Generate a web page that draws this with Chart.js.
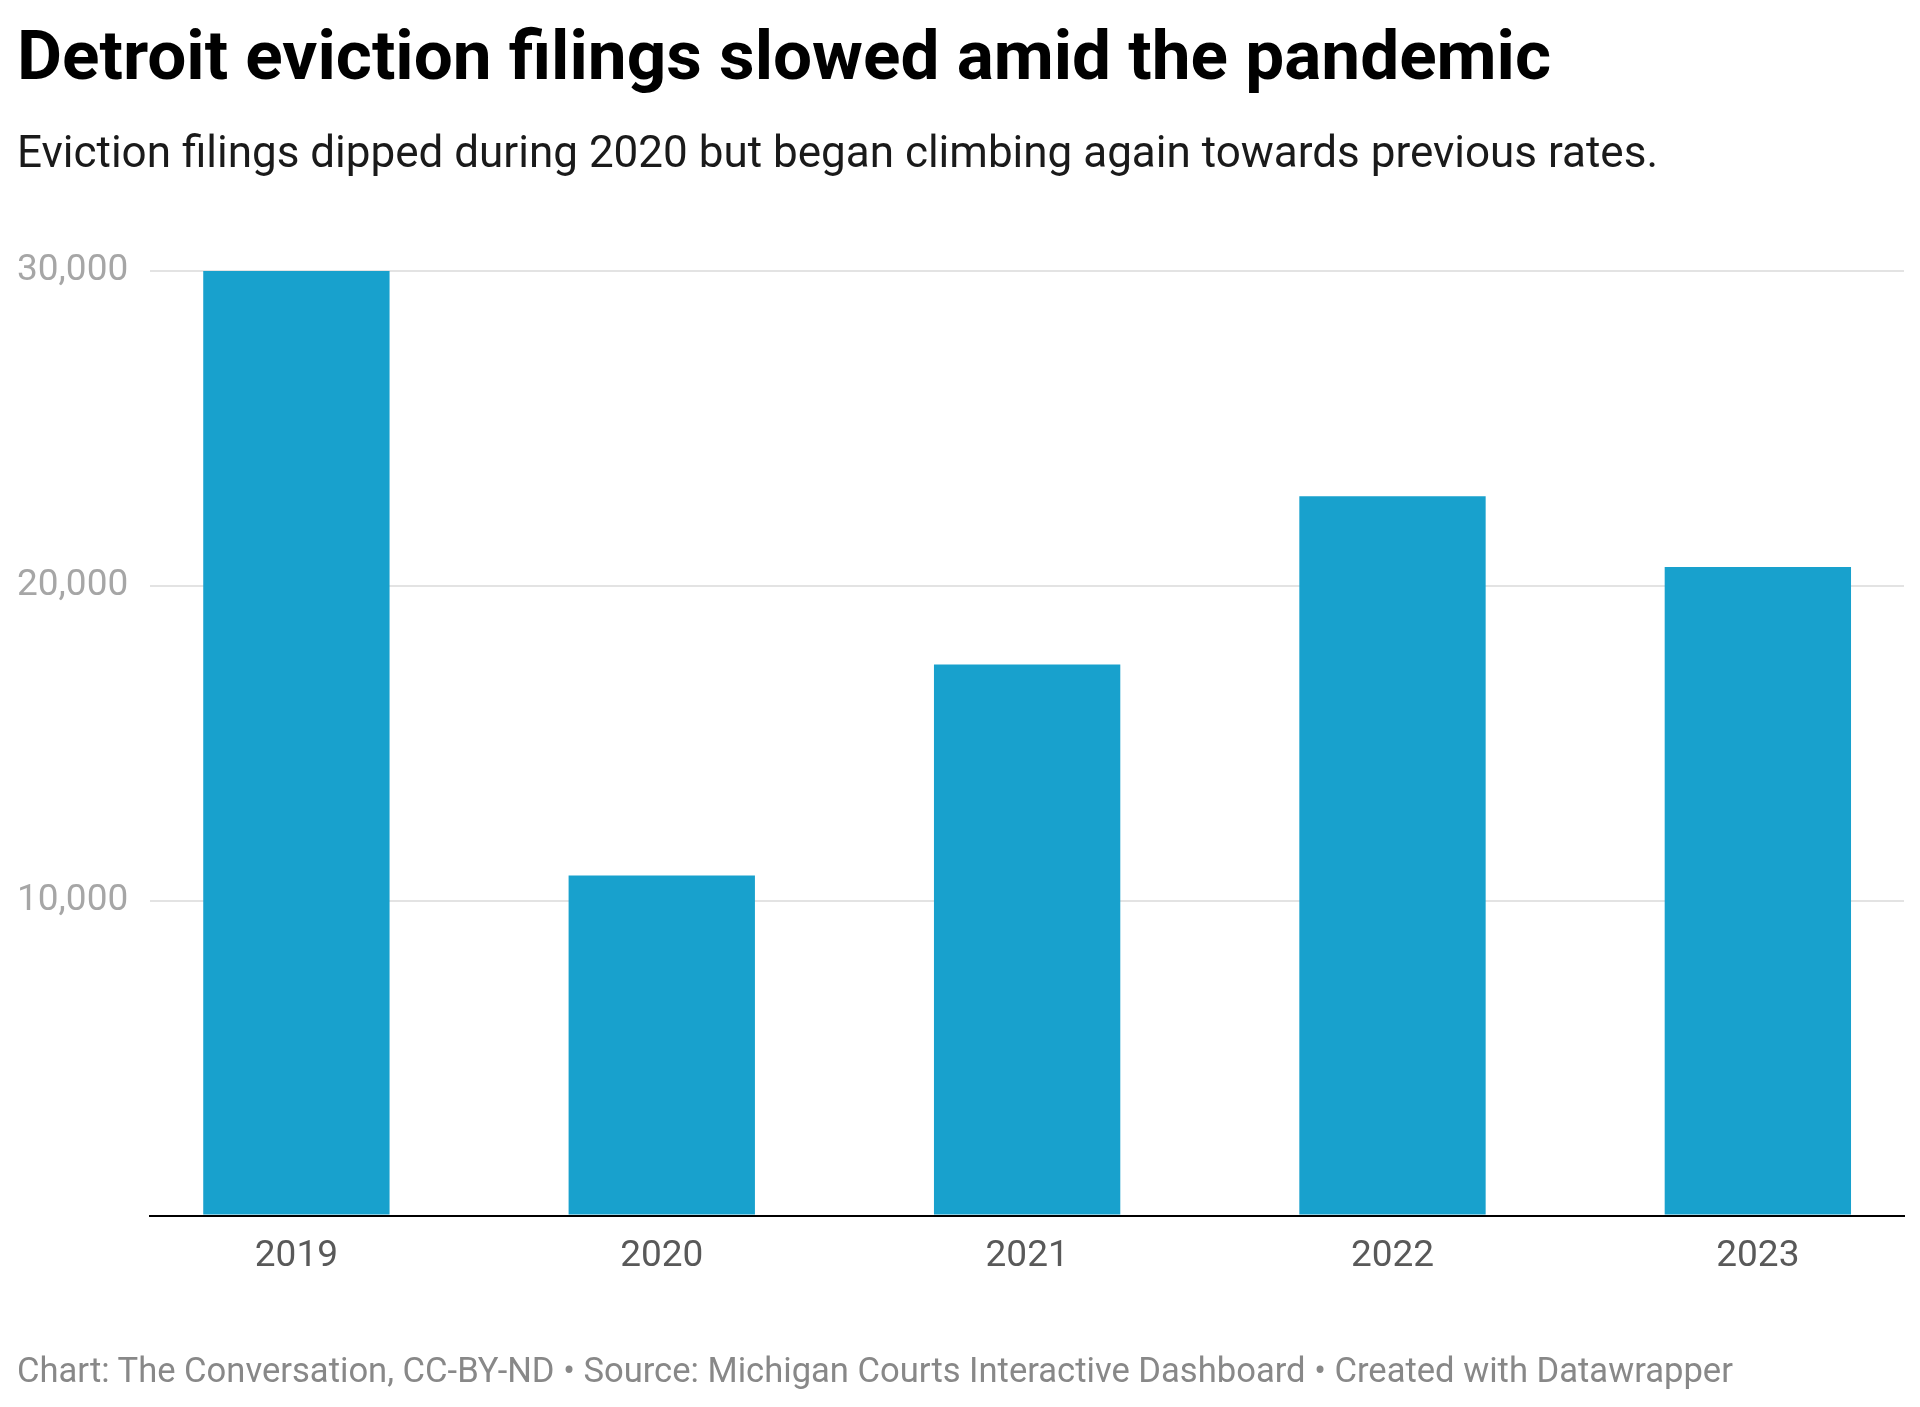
<!DOCTYPE html>
<html>
<head>
<meta charset="utf-8">
<title>Detroit eviction filings</title>
<script src="https://cdn.jsdelivr.net/npm/chart.js@4.4.1/dist/chart.umd.min.js"></script>
<style>
    html, body { margin: 0; padding: 0; background: #fff; }
    body { width: 1920px; height: 1407px; position: relative; overflow: hidden; font-family: Roboto, sans-serif; }
    .txt { position: absolute; left: 17px; white-space: nowrap; }
    #title { top: 21px; font-size: 69.3px; line-height: 69px; font-weight: 700; color: #000; }
    #subtitle { top: 130px; font-size: 44px; line-height: 44px; color: #1a1a1a; }
    #footer { top: 1353px; font-size: 34.6px; line-height: 34.6px; color: #888; }
    #chart { position: absolute; left: 0; top: 0; }
</style>
</head>
<body>
<canvas id="chart" width="1920" height="1407"></canvas>
<div class="txt" id="title">Detroit eviction filings slowed amid the pandemic</div>
<div class="txt" id="subtitle">Eviction filings dipped during 2020 but began climbing again towards previous rates.</div>
<div class="txt" id="footer">Chart: The Conversation, CC-BY-ND • Source: Michigan Courts Interactive Dashboard • Created with Datawrapper</div>

<script>
// 数据
const years = [2019, 2020, 2021, 2022, 2023];
const filings = [30000, 10800, 17500, 22850, 20600];
const yTicks = [0, 10000, 20000, 30000];

document.addEventListener('DOMContentLoaded', function() {
    const points = years.map((y, i) => ({ x: y, y: filings[i] }));

    new Chart(document.getElementById('chart'), {
        type: 'bar',
        data: {
            datasets: [{
                data: points,
                backgroundColor: '#18a1cd',
                borderWidth: 0,
                barPercentage: 0.51,
                categoryPercentage: 1
            }]
        },
        options: {
            responsive: false,
            animation: false,
            devicePixelRatio: 1,
            layout: {
                padding: { top: 271, left: 17, right: 16, bottom: 117 }
            },
            plugins: {
                legend: { display: false },
                tooltip: { enabled: false }
            },
            scales: {
                x: {
                    type: 'linear',
                    offset: false,
                    min: 2018.6,
                    max: 2023.4,
                    afterBuildTicks: s => { s.ticks = years.map(v => ({ value: v })); },
                    grid: { display: false },
                    border: { display: true, color: '#000', width: 2 },
                    ticks: {
                        padding: 11,
                        color: '#595959',
                        font: { family: 'Roboto', size: 37 },
                        callback: v => String(v)
                    }
                },
                y: {
                    min: 0,
                    max: 30000,
                    afterBuildTicks: s => { s.ticks = yTicks.map(v => ({ value: v })); },
                    border: { display: false },
                    grid: {
                        drawTicks: false,
                        lineWidth: 2,
                        color: ctx => ctx.tick && ctx.tick.value === 0 ? 'rgba(0,0,0,0)' : '#e3e3e3'
                    },
                    ticks: {
                        padding: 11,
                        crossAlign: 'far',
                        color: '#a6a6a6',
                        font: { family: 'Roboto', size: 37 },
                        callback: v => v === 0 ? '' : v.toLocaleString('en-US')
                    }
                }
            }
        }
    });
});
</script>
</body>
</html>
